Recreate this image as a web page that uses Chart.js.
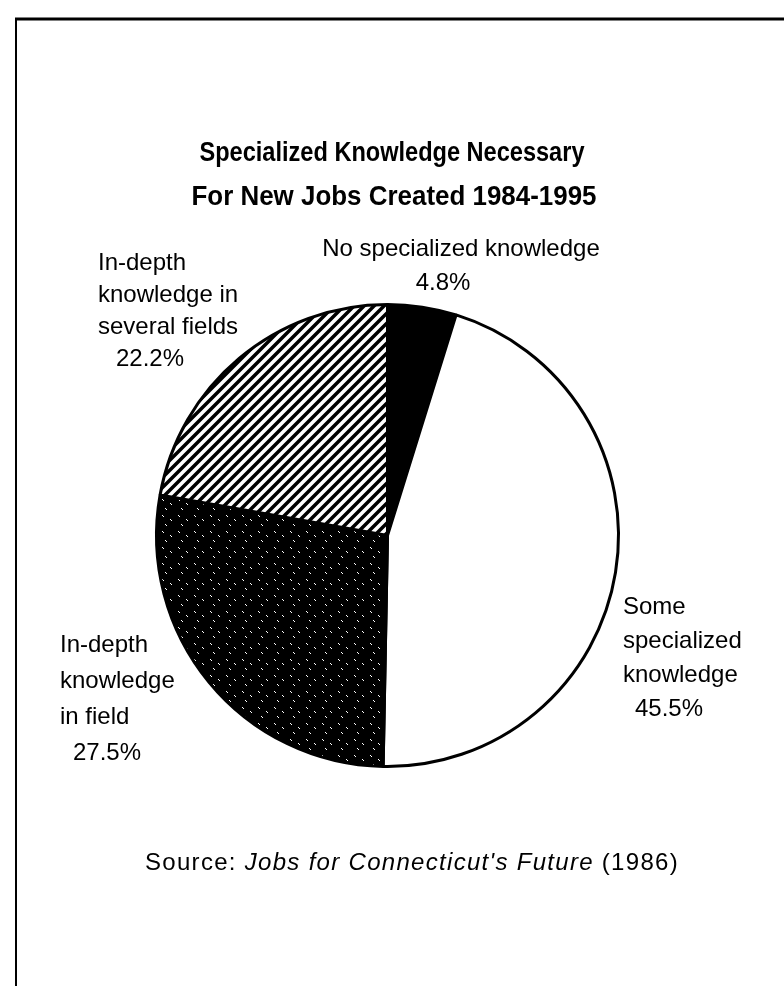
<!DOCTYPE html>
<html>
<head>
<meta charset="utf-8">
<title>Specialized Knowledge Necessary</title>
<script src="https://cdn.jsdelivr.net/npm/chart.js@4"></script>
<style>
    html, body { margin: 0; padding: 0; background: #fff; }
    canvas { display: block; }
</style>
</head>
<body>
<canvas id="graph1" width="784" height="986"></canvas>
<script>
const categories = ['No specialized knowledge', 'Some specialized knowledge', 'In-depth knowledge in field', 'In-depth knowledge in several fields'];
const shares = [4.8, 45.5, 27.5, 22.2];
const labelLines = [
    ['No specialized knowledge'],
    ['Some', 'specialized', 'knowledge'],
    ['In-depth', 'knowledge', 'in field'],
    ['In-depth', 'knowledge in', 'several fields']
];
const titleLines = ['Specialized Knowledge Necessary', 'For New Jobs Created 1984-1995'];
const sourceParts = ['Source: ', "Jobs for Connecticut's Future", ' (1986)'];

// label blocks: x of the text, first baseline, line step, x and baseline of the percent line
const labelPlace = [
    {x: 461, y: 256, step: 34, align: 'center', pctX: 443, pctY: 290},
    {x: 623, y: 614, step: 34, align: 'left', pctX: 635, pctY: 716},
    {x: 60, y: 652, step: 36, align: 'left', pctX: 73, pctY: 760},
    {x: 98, y: 270, step: 32, align: 'left', pctX: 116, pctY: 366}
];

const FONT = '"Liberation Sans", Arial, Helvetica, sans-serif';

function hatchPattern() {
    const c = document.createElement('canvas');
    c.width = 10;
    c.height = 10;
    const g = c.getContext('2d');
    g.fillStyle = '#fff';
    g.fillRect(0, 0, 10, 10);
    g.strokeStyle = '#000';
    g.lineWidth = 3.5;
    g.beginPath();
    g.moveTo(-5, 5); g.lineTo(5, -5);
    g.moveTo(0, 10); g.lineTo(10, 0);
    g.moveTo(5, 15); g.lineTo(15, 5);
    g.stroke();
    return g.createPattern(c, 'repeat');
}

// near-black screen with a few light specks
function stipplePattern() {
    const c = document.createElement('canvas');
    c.width = 16;
    c.height = 16;
    const g = c.getContext('2d');
    g.fillStyle = '#000';
    g.fillRect(0, 0, 16, 16);
    g.fillStyle = '#fff';
    const ticks = [[2, 3], [10, 7], [5, 12]];
    for (let t = 0; t < ticks.length; t++) {
        g.fillRect(ticks[t][0], ticks[t][1], 1, 1);
        g.fillRect(ticks[t][0] + 1, ticks[t][1] + 1, 1, 1);
    }
    return g.createPattern(c, 'repeat');
}

const textPlugin = {
    id: 'pageText',
    afterDraw(chart) {
        const ctx = chart.ctx;
        ctx.save();

        // frame round the figure
        ctx.strokeStyle = '#000';
        ctx.lineWidth = 3;
        ctx.beginPath();
        ctx.moveTo(15, 19);
        ctx.lineTo(784, 19);
        ctx.stroke();
        ctx.lineWidth = 2;
        ctx.beginPath();
        ctx.moveTo(16, 18);
        ctx.lineTo(16, 986);
        ctx.stroke();

        ctx.fillStyle = '#000';
        ctx.textBaseline = 'alphabetic';

        // title, squeezed to a condensed look
        ctx.textAlign = 'center';
        ctx.font = 'bold 28px ' + FONT;
        ctx.fillText(titleLines[0], 392, 161, 385);
        ctx.fillText(titleLines[1], 394, 205, 405);

        // slice labels
        ctx.font = '24px ' + FONT;
        for (let i = 0; i < labelLines.length; i++) {
            const p = labelPlace[i];
            const lines = labelLines[i];
            ctx.textAlign = p.align;
            for (let l = 0; l < lines.length; l++) {
                ctx.fillText(lines[l], p.x, p.y + l * p.step);
            }
            ctx.fillText(shares[i].toFixed(1) + '%', p.pctX, p.pctY);
        }

        // source line, title of the report in italics
        ctx.textAlign = 'left';
        ctx.letterSpacing = '1.3px';
        const fonts = ['24px ' + FONT, 'italic 24px ' + FONT, '24px ' + FONT];
        let total = 0;
        for (let s = 0; s < sourceParts.length; s++) {
            ctx.font = fonts[s];
            total += ctx.measureText(sourceParts[s]).width;
        }
        let x = 412 - total / 2;
        for (let s = 0; s < sourceParts.length; s++) {
            ctx.font = fonts[s];
            ctx.fillText(sourceParts[s], x, 870);
            x += ctx.measureText(sourceParts[s]).width;
        }
        ctx.restore();
    }
};

function mkPie() {
    const ctx = document.getElementById('graph1');
    const data = {
        "labels": categories,
        "datasets": [
            {
                "data": shares,
                "backgroundColor": ['#000000', '#ffffff', stipplePattern(), hatchPattern()],
                "borderColor": '#000000',
                "borderWidth": 3
            }
        ]
    };
    const options = {
        responsive: false,
        animation: false,
        events: [],
        layout: {padding: {left: 155, top: 303, right: 164, bottom: 218}},
        plugins: {
            legend: {display: false},
            tooltip: {enabled: false}
        }
    };

    new Chart(ctx, {
        type: 'pie',
        data: data,
        options: options,
        plugins: [textPlugin]
    });
}

mkPie();
</script>
</body>
</html>
